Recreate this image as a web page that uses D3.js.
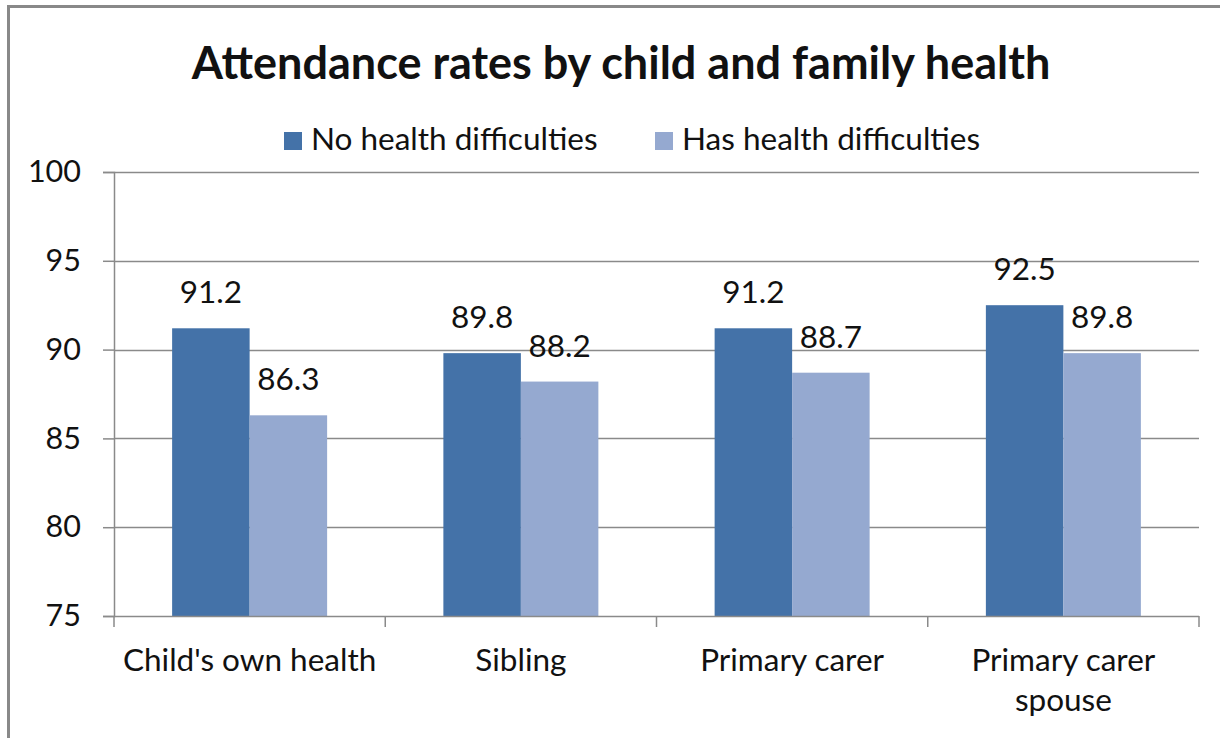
<!DOCTYPE html>
<html>
<head>
<meta charset="utf-8">
<script src="https://cdn.jsdelivr.net/npm/d3@7"></script>
<style>
  html, body { margin: 0; padding: 0; background: #fff; }
  svg { display: block; }
  text { font-family: Lato, "Open Sans", sans-serif; fill: #111; }
</style>
</head>
<body>
<svg id="chart" width="1220" height="738"></svg>
<script>
// Chart data
const title = "Attendance rates by child and family health";
const categories = ["Child's own health", "Sibling", "Primary carer", "Primary carer spouse"];
const seriesNames = ["No health difficulties", "Has health difficulties"];
const noDifficulties = [91.2, 89.8, 91.2, 92.5];
const hasDifficulties = [86.3, 88.2, 88.7, 89.8];
const yTicks = [75, 80, 85, 90, 95, 100];
const colors = ["#4472a8", "#95a9d0"];

const seriesValues = [noDifficulties, hasDifficulties];
const rows = categories.map((c, i) => ({
  category: c,
  values: seriesNames.map((s, j) => ({ series: s, value: seriesValues[j][i], color: colors[j] }))
}));

const svg = d3.select("#chart");
const plot = { left: 114, right: 1199, top: 172, bottom: 616 };
const axisColor = "#8a8a8a";
const bodySize = "31.5px";

// Outer frame (only top and left edges fall inside the view)
svg.append("rect")
  .attr("x", 8.5).attr("y", 6.5)
  .attr("width", 1400).attr("height", 1000)
  .attr("fill", "none").attr("stroke", "#898989").attr("stroke-width", 3);

// Title
svg.append("text")
  .attr("x", 621).attr("y", 79)
  .attr("text-anchor", "middle")
  .style("font-size", "45px").style("font-weight", "bold")
  .text(title);

// Scales
const y = d3.scaleLinear().domain([75, 100]).range([plot.bottom, plot.top]);
const x0 = d3.scaleBand().domain(categories).range([plot.left, plot.right]).padding(0);
const gapFrac = 0.75 / 3.5;
const x1 = d3.scaleBand().domain(seriesNames)
  .range([x0.bandwidth() * gapFrac, x0.bandwidth() * (1 - gapFrac)]).padding(0);

// Gridlines
svg.append("g")
  .selectAll("line").data(yTicks.filter(t => t > 75)).join("line")
  .attr("x1", plot.left).attr("x2", plot.right)
  .attr("y1", d => Math.round(y(d)) + 0.5).attr("y2", d => Math.round(y(d)) + 0.5)
  .attr("stroke", axisColor).attr("stroke-width", 1.5);

// Y axis
const yAxis = svg.append("g")
  .attr("transform", `translate(${plot.left},0)`)
  .call(d3.axisLeft(y).tickValues(yTicks).tickSize(11).tickPadding(22).tickFormat(d3.format("d")));
yAxis.select(".domain").attr("stroke", axisColor).attr("stroke-width", 1.5);
yAxis.selectAll(".tick line").attr("stroke", axisColor).attr("stroke-width", 1.5);
yAxis.selectAll(".tick text")
  .style("font-size", "30.5px").style("font-family", "Lato, 'Open Sans', sans-serif")
  .attr("fill", "#111");

// Bars
const groups = svg.append("g").selectAll("g").data(rows).join("g")
  .attr("transform", d => `translate(${x0(d.category)},0)`);

groups.selectAll("rect").data(d => d.values).join("rect")
  .attr("x", d => x1(d.series))
  .attr("width", x1.bandwidth())
  .attr("y", d => y(d.value))
  .attr("height", d => y(75) - y(d.value))
  .attr("fill", d => d.color);

// Value labels
groups.selectAll("text.value").data(d => d.values).join("text")
  .attr("class", "value")
  .attr("x", d => x1(d.series) + x1.bandwidth() / 2)
  .attr("y", d => y(d.value) - 25)
  .attr("text-anchor", "middle")
  .style("font-size", bodySize)
  .text(d => d.value.toFixed(1));

// X axis
const xAxis = svg.append("g")
  .attr("transform", `translate(0,${plot.bottom})`);
xAxis.append("line")
  .attr("x1", plot.left).attr("x2", plot.right)
  .attr("y1", 0.5).attr("y2", 0.5)
  .attr("stroke", axisColor).attr("stroke-width", 1.5);
const boundaries = categories.map(c => x0(c)).concat([x0.range()[1]]);
xAxis.selectAll("line.tick").data(boundaries).join("line")
  .attr("class", "tick")
  .attr("x1", d => d).attr("x2", d => d)
  .attr("y1", 0).attr("y2", 11)
  .attr("stroke", axisColor).attr("stroke-width", 1.5);

// Category labels, wrapping the last one onto two lines
const labelLines = { "Primary carer spouse": ["Primary carer", "spouse"] };
xAxis.selectAll("text.cat").data(categories).join("text")
  .attr("class", "cat")
  .attr("text-anchor", "middle")
  .style("font-size", bodySize)
  .each(function (c) {
    const lines = labelLines[c] || [c];
    const t = d3.select(this);
    lines.forEach((ln, i) => {
      t.append("tspan")
        .attr("x", x0(c) + x0.bandwidth() / 2)
        .attr("y", 55 + i * 40)
        .text(ln);
    });
  });

// Legend
const legendItems = [
  { name: seriesNames[0], color: colors[0], x: 284 },
  { name: seriesNames[1], color: colors[1], x: 655 }
];
const legend = svg.append("g").selectAll("g").data(legendItems).join("g")
  .attr("transform", d => `translate(${d.x},132)`);
legend.append("rect").attr("width", 18).attr("height", 18).attr("fill", d => d.color);
legend.append("text").attr("x", 27).attr("y", 18)
  .style("font-size", bodySize)
  .text(d => d.name);
</script>
</body>
</html>
